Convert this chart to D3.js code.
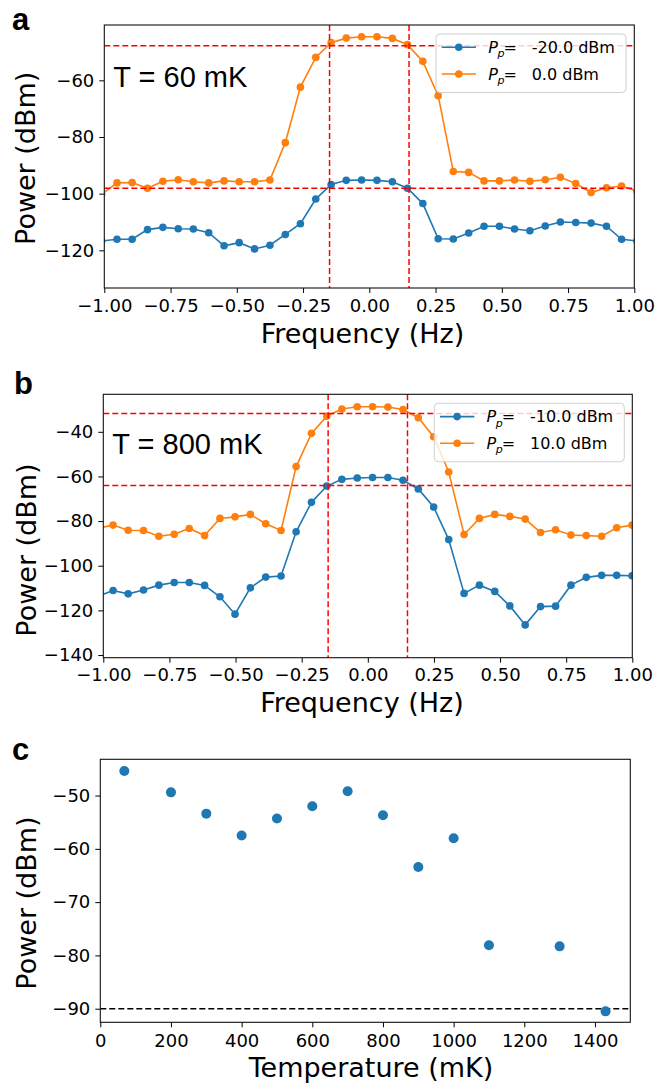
<!DOCTYPE html>
<html>
<head>
<meta charset="utf-8">
<script src="https://cdnjs.cloudflare.com/ajax/libs/d3/7.8.5/d3.min.js"></script>
<style>
  body { margin: 0; background: #fff; }
  svg { font-family: "DejaVu Sans", sans-serif; }
  .axis line { stroke: #000; stroke-width: 1; }
  .axis text { font-size: 18px; fill: #000; font-family: "DejaVu Sans", sans-serif; }
  .label { font-size: 27px; fill: #000; }
  .note { font-family: "Liberation Sans", Arial, sans-serif; font-size: 29px; fill: #000; }
  .letter { font-family: "Liberation Sans", Arial, sans-serif; font-size: 31px; font-weight: bold; fill: #000; }
  .leg { font-size: 16px; fill: #000; }
</style>
</head>
<body>
<div id="chart"></div>
<script>
/* Data */
var freqA = [-1.010, -0.952, -0.895, -0.837, -0.779, -0.721, -0.664, -0.606, -0.548, -0.491, -0.433, -0.375,
  -0.317, -0.260, -0.202, -0.144, -0.087, -0.029, 0.029, 0.087, 0.144, 0.202, 0.260, 0.317,
  0.375, 0.433, 0.491, 0.548, 0.606, 0.664, 0.721, 0.779, 0.837, 0.895, 0.952, 1.010];
var freqB = [-1.021, -0.963, -0.906, -0.848, -0.790, -0.732, -0.675, -0.617, -0.559, -0.502, -0.444, -0.386,
  -0.328, -0.271, -0.213, -0.155, -0.098, -0.040, 0.018, 0.076, 0.133, 0.191, 0.249, 0.306,
  0.364, 0.422, 0.480, 0.537, 0.595, 0.653, 0.710, 0.768, 0.826, 0.884, 0.941, 0.999];

// panel a, T = 60 mK
var aLow = [-116.7, -116.1, -116.1, -112.7, -111.9, -112.4, -112.5, -113.8, -118.4, -117.3, -119.5, -118.2,
  -114.4, -110.6, -101.9, -96.8, -95.3, -95.2, -95.3, -95.8, -98.1, -103.5, -115.9, -116.0,
  -113.9, -111.5, -111.5, -112.5, -113.1, -111.4, -110.0, -110.2, -110.4, -111.5, -116.1, -116.7];
var aHigh = [-100.2, -96.2, -96.1, -98.1, -95.6, -95.1, -95.8, -96.2, -95.5, -95.8, -95.8, -95.2,
  -82.0, -62.4, -51.9, -46.7, -45.1, -44.6, -44.6, -45.2, -47.4, -53.3, -65.4, -92.2,
  -92.5, -95.5, -95.5, -95.2, -95.6, -95.1, -94.2, -96.4, -99.6, -97.9, -97.3, -99.2];
var aLegend = ["-20.0 dBm", "0.0 dBm"];
var aHLines = [-47.8, -98.1];

// panel b, T = 800 mK
var bLow = [-113.7, -111.1, -112.6, -110.9, -108.7, -107.5, -107.5, -108.8, -113.9, -121.7, -109.9, -105.1,
  -104.6, -84.8, -71.6, -64.3, -61.3, -60.7, -60.5, -60.5, -61.7, -65.6, -73.7, -88.3,
  -112.4, -108.7, -111.5, -118.0, -126.5, -118.3, -118.1, -108.7, -105.2, -104.3, -104.3, -104.5];
var bHigh = [-83.2, -81.8, -84.1, -84.2, -86.8, -85.9, -83.3, -86.5, -78.8, -78.1, -77.0, -81.2,
  -84.2, -55.6, -40.7, -33.0, -29.8, -28.8, -28.8, -28.9, -30.0, -33.7, -42.2, -58.0,
  -86.0, -78.8, -77.0, -77.9, -79.1, -85.1, -83.9, -86.2, -86.5, -86.8, -83.0, -81.8];
var bLegend = ["-10.0 dBm", "10.0 dBm"];
var bHLines = [-31.8, -64.1];

var bandEdges = [-0.15, 0.15];
var freqTicks = [-1.00, -0.75, -0.50, -0.25, 0.00, 0.25, 0.50, 0.75, 1.00];

// panel c
var temps = [68, 200, 300, 400, 500, 600, 700, 800, 900, 1000, 1100, 1300, 1430];
var peakPower = [-45.4, -49.4, -53.4, -57.5, -54.3, -52.0, -49.2, -53.7, -63.4, -58.0, -78.1, -78.3, -90.5];
var floorLevel = -90;
var tempTicks = [0, 200, 400, 600, 800, 1000, 1200, 1400];

var blue = "#1f77b4", orange = "#ff7f0e";

var svg = d3.select("#chart").append("svg")
  .attr("width", 655)
  .attr("height", 1087);
svg.append("rect").attr("width", 655).attr("height", 1087).attr("fill", "#fff");

function frame(g, w, h) {
  g.append("rect")
    .attr("width", w).attr("height", h)
    .attr("fill", "none").attr("stroke", "#111").attr("stroke-width", 1.1);
}

function spectrum(p) {
  var w = p.right - p.left, h = p.bottom - p.top;
  var g = svg.append("g").attr("transform", `translate(${p.left}, ${p.top})`);

  var x = d3.scaleLinear().domain([-1, 1]).range([0, w]);
  var y = d3.scaleLinear().domain(p.yDomain).range([h, 0]);

  g.append("clipPath").attr("id", p.id + "clip")
    .append("rect").attr("width", w).attr("height", h);

  var plot = g.append("g").attr("clip-path", `url(#${p.id}clip)`);
  var line = d3.line().x((d, i) => x(p.freq[i])).y(d => y(d));

  [[p.low, blue], [p.high, orange]].forEach(function(s) {
    plot.append("path")
      .attr("d", line(s[0]))
      .attr("fill", "none")
      .attr("stroke", s[1])
      .attr("stroke-width", 1.6);
    plot.selectAll(null)
      .data(s[0]).enter()
      .append("circle")
      .attr("cx", (d, i) => x(p.freq[i]))
      .attr("cy", d => y(d))
      .attr("r", 3.8)
      .attr("fill", s[1]);
  });

  plot.selectAll(null).data(p.hLines).enter()
    .append("line")
    .attr("x1", 0).attr("x2", w)
    .attr("y1", d => y(d)).attr("y2", d => y(d))
    .attr("stroke", "#ff0000").attr("stroke-width", 1.5)
    .attr("stroke-dasharray", "6,3");
  plot.selectAll(null).data(bandEdges).enter()
    .append("line")
    .attr("y1", 0).attr("y2", h)
    .attr("x1", d => x(d)).attr("x2", d => x(d))
    .attr("stroke", "#ff0000").attr("stroke-width", 1.5)
    .attr("stroke-dasharray", "6,3");

  var xAxis = g.append("g").attr("class", "axis")
    .attr("transform", `translate(0, ${h})`)
    .call(d3.axisBottom(x).tickValues(freqTicks).tickFormat(d3.format(".2f")).tickSize(5).tickPadding(6));
  xAxis.select(".domain").remove();

  var yAxis = g.append("g").attr("class", "axis")
    .call(d3.axisLeft(y).tickValues(p.yTicks).tickFormat(d3.format("d")).tickSize(5).tickPadding(5));
  yAxis.select(".domain").remove();

  frame(g, w, h);

  svg.append("text").attr("class", "label")
    .attr("x", p.xLabel[0]).attr("y", p.xLabel[1])
    .attr("text-anchor", "middle")
    .text("Frequency (Hz)");
  svg.append("text").attr("class", "label")
    .attr("transform", `translate(${p.yLabel[0]}, ${p.yLabel[1]}) rotate(-90)`)
    .attr("text-anchor", "middle")
    .text("Power (dBm)");

  svg.append("text").attr("class", "note")
    .attr("x", p.left + 9).attr("y", p.note[1])
    .text(p.note[0]);
  svg.append("text").attr("class", "letter")
    .attr("x", p.letter[1]).attr("y", p.letter[2])
    .text(p.letter[0]);

  // legend
  var lg = svg.append("g").attr("transform", `translate(${p.legend[0]}, ${p.legend[1]})`);
  lg.append("rect")
    .attr("width", 190).attr("height", 58.5)
    .attr("rx", 4)
    .attr("fill", "#fff").attr("fill-opacity", 0.8)
    .attr("stroke", "#d0d0d0").attr("stroke-width", 1);
  [[blue, p.legendText[0]], [orange, p.legendText[1]]].forEach(function(r, i) {
    var ry = 13.3 + i * 26.7;
    lg.append("line")
      .attr("x1", 5.7).attr("x2", 40).attr("y1", ry).attr("y2", ry)
      .attr("stroke", r[0]).attr("stroke-width", 1.6);
    lg.append("circle").attr("cx", 22.8).attr("cy", ry).attr("r", 3.8).attr("fill", r[0]);
    lg.append("text").attr("class", "leg")
      .attr("x", 52.3).attr("y", ry + 5.8)
      .style("font-style", "italic").text("P");
    lg.append("text").attr("class", "leg")
      .attr("x", 61.5).attr("y", ry + 10)
      .style("font-style", "italic").style("font-size", "11px").text("p");
    lg.append("text").attr("class", "leg")
      .attr("x", 67.5).attr("y", ry + 5.8).text("=");
    lg.append("text").attr("class", "leg")
      .attr("x", 95.7).attr("y", ry + 5.8).text(r[1]);
  });
}

spectrum({
  id: "a", left: 104.3, right: 634.3, top: 25, bottom: 288,
  yDomain: [-133.3, -40.47], yTicks: [-120, -100, -80, -60],
  freq: freqA, low: aLow, high: aHigh, hLines: aHLines,
  legend: [436, 34], legendText: aLegend,
  xLabel: [362.5, 343], yLabel: [35, 158.3],
  note: ["T = 60 mK", 87.3], letter: ["a", 12, 30]
});

spectrum({
  id: "b", left: 103.3, right: 632.3, top: 394.3, bottom: 657.7,
  yDomain: [-141.2, -23.2], yTicks: [-140, -120, -100, -80, -60, -40],
  freq: freqB, low: bLow, high: bHigh, hLines: bHLines,
  legend: [434.3, 403.3], legendText: bLegend,
  xLabel: [362, 711.5], yLabel: [36, 550],
  note: ["T = 800 mK", 454.3], letter: ["b", 14, 394]
});

/* Panel c: peak power vs temperature */
(function() {
  var left = 100.3, right = 630.3, top = 759.3, bottom = 1022.3;
  var w = right - left, h = bottom - top;
  var g = svg.append("g").attr("transform", `translate(${left}, ${top})`);

  var x = d3.scaleLinear().domain([0, 1500]).range([0, w]);
  var y = d3.scaleLinear().domain([-92.55, -43.2]).range([h, 0]);

  g.append("line")
    .attr("x1", 0).attr("x2", w)
    .attr("y1", y(floorLevel)).attr("y2", y(floorLevel))
    .attr("stroke", "#000").attr("stroke-width", 1.5)
    .attr("stroke-dasharray", "6,3");

  g.selectAll(null).data(peakPower).enter()
    .append("circle")
    .attr("cx", (d, i) => x(temps[i]))
    .attr("cy", d => y(d))
    .attr("r", 5)
    .attr("fill", blue);

  var xAxis = g.append("g").attr("class", "axis")
    .attr("transform", `translate(0, ${h})`)
    .call(d3.axisBottom(x).tickValues(tempTicks).tickFormat(d3.format("d")).tickSize(5).tickPadding(6.6));
  xAxis.select(".domain").remove();

  var yAxis = g.append("g").attr("class", "axis")
    .call(d3.axisLeft(y).tickValues([-90, -80, -70, -60, -50]).tickFormat(d3.format("d")).tickSize(5).tickPadding(5));
  yAxis.select(".domain").remove();

  frame(g, w, h);

  svg.append("text").attr("class", "label")
    .attr("x", 371).attr("y", 1076.5)
    .attr("text-anchor", "middle")
    .text("Temperature (mK)");
  svg.append("text").attr("class", "label")
    .attr("transform", "translate(36, 903) rotate(-90)")
    .attr("text-anchor", "middle")
    .text("Power (dBm)");
  svg.append("text").attr("class", "letter")
    .attr("x", 12).attr("y", 760)
    .text("c");
})();
</script>
</body>
</html>
